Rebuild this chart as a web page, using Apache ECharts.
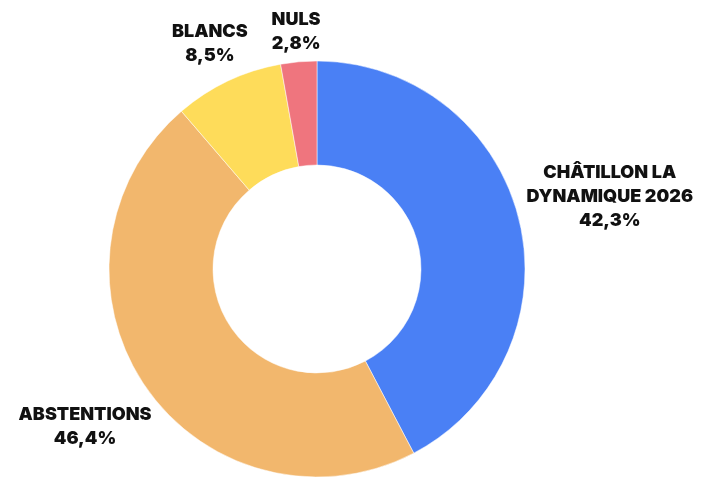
<!DOCTYPE html>
<html><head><meta charset="utf-8">
<script src="https://cdn.jsdelivr.net/npm/echarts@6/dist/echarts.min.js"></script>
<style>html,body{margin:0;padding:0;background:#fff}#c{width:701px;height:477px}</style>
</head><body><div id="c"></div>
<script>
const categories = ['CHÂTILLON LA\nDYNAMIQUE 2026', 'ABSTENTIONS', 'BLANCS', 'NULS'];
const values = [42.3, 46.4, 8.5, 2.8];
const colors = ['#4a80f5', '#f2b76d', '#fedc5a', '#ef757e'];

const CX = 317, CY = 269, R_OUT = 208, R_IN = 104, OFFSET = 4;
const total = values.reduce((a, b) => a + b, 0);
function midAngle(i) {
  let before = 0;
  for (let k = 0; k < i; k++) before += values[k];
  return (before + values[i] / 2) / total * 2 * Math.PI; // clockwise from top
}
const fmt = v => v.toFixed(1).replace('.', ',') + '%';

const chart = echarts.init(document.getElementById('c'));
chart.setOption({
  animation: false,
  series: [{
    type: 'pie',
    center: [CX, CY],
    radius: [R_IN, R_OUT],
    startAngle: 90,
    clockwise: true,
    itemStyle: { borderColor: '#fff', borderWidth: 0.5 },
    label: {
      show: true,
      position: 'outside',
      alignTo: 'none',
      overflow: 'none',
      formatter: p => p.name + '\n' + fmt(p.value),
      fontFamily: 'Inter',
      fontWeight: 900,
      fontSize: 18,
      lineHeight: 24,
      color: '#111',
      align: 'center'
    },
    labelLine: { show: false },
    emphasis: { disabled: true },
    labelLayout: function (params) {
      const a = midAngle(params.dataIndex);
      const dx = Math.sin(a), dy = -Math.cos(a);
      const w = params.labelRect.width, h = params.labelRect.height;
      const ext = Math.abs(dx) * w / 2 + Math.abs(dy) * h / 2;
      const d = R_OUT + OFFSET + ext;
      return { x: CX + dx * d, y: CY + dy * d, align: 'center', verticalAlign: 'middle' };
    },
    data: categories.map((c, i) => ({ name: c, value: values[i], itemStyle: { color: colors[i] } }))
  }]
});
</script></body></html>
